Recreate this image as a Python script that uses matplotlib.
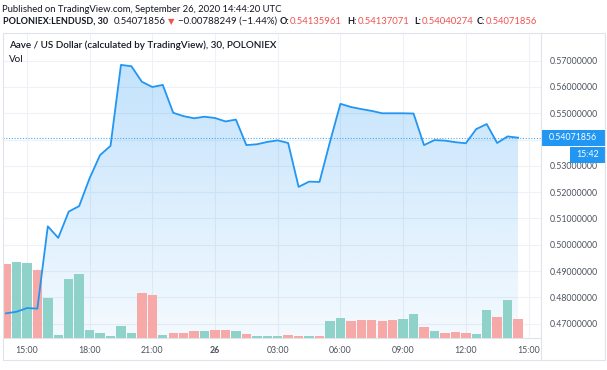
import matplotlib
matplotlib.use('Agg')
import matplotlib.pyplot as plt
from matplotlib.patches import Rectangle
from matplotlib.lines import Line2D
import numpy as np

plt.rcParams['font.family'] = ['Lato', 'DejaVu Sans']

# half-hour bars from 14:00 Sep 25 to 14:30 Sep 26 (hours since Sep 25 00:00)
hours = 14 + 0.5 * np.arange(50)

close = [0.4739, 0.4745, 0.4759, 0.4757, 0.5070, 0.5026, 0.5126, 0.5147, 0.5253, 0.5341,
         0.5376, 0.5684, 0.5679, 0.5620, 0.5600, 0.5608, 0.5502, 0.5489, 0.5481, 0.5487,
         0.5482, 0.5469, 0.5476, 0.5379, 0.5382, 0.5391, 0.5397, 0.5387, 0.5220, 0.5240,
         0.5239, 0.5391, 0.5536, 0.5524, 0.5516, 0.5509, 0.5500, 0.5500, 0.5500, 0.5499,
         0.5379, 0.5398, 0.5396, 0.5390, 0.5386, 0.5440, 0.5459, 0.5387, 0.5412, 0.54071856]

volume = [74.3, 76, 75, 68.3, 40.3, 3.3, 59, 64.3, 8.3, 5.3,
          2.3, 11.7, 5, 45, 43.3, 3.3, 5, 5, 6.7, 6.7,
          7.7, 7.7, 6.7, 4.3, 2, 2, 2, 2.7, 1.7, 2.3,
          2.3, 16.7, 20.3, 17.3, 18, 18, 17.3, 18, 19.3, 24.3,
          11, 7.3, 4.7, 6.3, 5, 4, 28, 21, 38, 18.7]

vol_up = [0, 1, 1, 0, 1, 1, 1, 1, 1, 1,
          1, 1, 1, 0, 0, 1, 0, 0, 0, 1,
          0, 0, 1, 0, 1, 1, 1, 0, 0, 1,
          0, 1, 1, 0, 0, 0, 0, 0, 1, 1,
          0, 1, 0, 0, 0, 1, 1, 0, 1, 0]

xticks = [15, 18, 21, 24, 27, 30, 33, 36, 39]
xlabels = ['15:00', '18:00', '21:00', '26', '03:00', '06:00', '09:00', '12:00', '15:00']
yticks = [0.47, 0.48, 0.49, 0.50, 0.51, 0.52, 0.53, 0.54, 0.55, 0.56, 0.57]

last = close[-1]
blue = '#2196f3'
grid_c = '#eef1f7'
text_c = '#131722'
red = '#ef5350'

W, H = 607, 370
fig = plt.figure(figsize=(W / 100, H / 100), dpi=100)
renderer = fig.canvas.get_renderer()


def fit(t, width_px):
    # scale a text so that it spans the width measured on the reference
    w = t.get_window_extent(renderer).width
    t.set_fontsize(t.get_fontsize() * width_px / w)


# pixel layout of the pane
x0, x1, y_top, y_bot = 3, 541, 33, 338
rect = [x0 / W, (H - y_bot) / H, (x1 - x0) / W, (y_bot - y_top) / H]
ylim = (0.46452, 0.58054)
xlim = (13.856, 39.598)

ax = fig.add_axes(rect)

# gradient area under the line
poly = ax.fill_between(hours, close, ylim[0], color='none', lw=0)
grad = np.linspace(0.05, 0.27, 256).reshape(-1, 1)
cimg = np.zeros((256, 1, 4))
cimg[..., 0] = 33 / 255
cimg[..., 1] = 150 / 255
cimg[..., 2] = 243 / 255
cimg[..., 3] = grad
im = ax.imshow(cimg, aspect='auto', origin='lower',
               extent=[hours[0], hours[-1], ylim[0], max(close)], zorder=1)
im.set_clip_path(poly.get_paths()[0], transform=ax.transData)

# volume
axv = ax.twinx()
axv.set_ylim(0, 305)
axv.bar(hours, volume, width=0.45,
        color=['#8fd2c9' if u else '#f6a9a7' for u in vol_up], lw=0, zorder=2)
axv.axis('off')

# price line
axl = ax.twinx()
axl.set_xlim(xlim)
axl.set_ylim(ylim)
axl.plot(hours, close, color=blue, lw=1.3)
axl.axhline(last, color=blue, lw=0.8, ls=(0, (1, 1.5)), alpha=0.8)
axl.axis('off')

ax.set_xlim(xlim)
ax.set_ylim(ylim)
ax.set_xticks(xticks)
ax.set_xticklabels(xlabels)
for lab in ax.get_xticklabels():
    if lab.get_text() == '26':
        lab.set_fontweight('bold')
ax.yaxis.tick_right()
ax.yaxis.set_label_position('right')
ax.set_yticks(yticks)
# 0.54 label sits under the last-price badge
ax.set_yticklabels(['' if abs(v - 0.54) < 1e-9 else '%.8f' % v for v in yticks])
ax.tick_params(axis='x', length=0, pad=6, labelsize=6.3, colors='#4c525e')
ax.tick_params(axis='y', length=0, pad=6, labelsize=6.3, labelcolor='#4c525e')
ax.grid(True, color=grid_c, lw=0.8)
ax.set_axisbelow(True)
for s in ['top', 'left', 'right']:
    ax.spines[s].set_visible(False)
ax.spines['bottom'].set_color('#e0e3eb')

# last price badges
fig.patches.append(Rectangle((x1 / W, 1 - 146 / H), (605 - x1) / W, 16 / H,
                             transform=fig.transFigure, fc=blue, ec='none'))
fig.text(573 / W, 1 - 138 / H, '0.54071856', ha='center', va='center', color='white',
         fontsize=6.3)
fig.patches.append(Rectangle((570 / W, 1 - 163 / H), 35 / W, 16 / H,
                             transform=fig.transFigure, fc=blue, ec='none'))
fig.text(587.5 / W, 1 - 155 / H, '15:42', ha='center', va='center', color='white',
         fontsize=6.3)

# outer frame and right scale line
fig.patches.append(Rectangle((x0 / W, 1 - 360 / H), (605 - x0) / W, (360 - y_top) / H,
                             transform=fig.transFigure, fill=False, ec='#e0e3eb', lw=0.8))
fig.lines.append(Line2D([x1 / W, x1 / W], [1 - 360 / H, 1 - y_top / H],
                        transform=fig.transFigure, color='#e0e3eb', lw=0.8))

# header texts
t = fig.text(2 / W, 1 - 9 / H, 'Published on TradingView.com, September 26, 2020 14:44:20 UTC',
             fontsize=7, color=text_c, va='center')
fit(t, 281)

# (text, colour, weight, left x, width in pixels)
parts = [('POLONIEX:LENDUSD, 30', text_c, 'bold', 3, 105),
         ('0.54071856', text_c, 'normal', 114, 52),
         ('\u25bc', red, 'normal', 168, None),
         ('\u22120.00788249 (\u22121.44%)', text_c, 'normal', 178, 99),
         ('O:', text_c, 'bold', 280, None), ('0.54135961', red, 'normal', 290, 52),
         ('H:', text_c, 'bold', 347, None), ('0.54137071', red, 'normal', 358, 52),
         ('L:', text_c, 'bold', 414, None), ('0.54040274', red, 'normal', 422, 52),
         ('C:', text_c, 'bold', 477, None), ('0.54071856', red, 'normal', 486, 51)]
bold_size = 7
for txt, col, wt, px, wpx in parts:
    t = fig.text(px / W, 1 - 21.5 / H, txt, fontsize=7, color=col, fontweight=wt,
                 va='center', ha='left')
    if wpx:
        fit(t, wpx)
        if wt == 'bold':
            bold_size = t.get_fontsize()
    elif wt == 'bold':
        t.set_fontsize(bold_size)
    else:
        t.set_fontsize(6)

t = fig.text(9 / W, 1 - 45 / H, 'Aave / US Dollar (calculated by TradingView), 30, POLONIEX',
             fontsize=7, color=text_c, fontweight='semibold', va='center')
fit(t, 268)
fig.text(9 / W, 1 - 60 / H, 'Vol', fontsize=t.get_fontsize(), color=text_c, va='center')

fig.savefig('out.png', dpi=100)
plt.close()
